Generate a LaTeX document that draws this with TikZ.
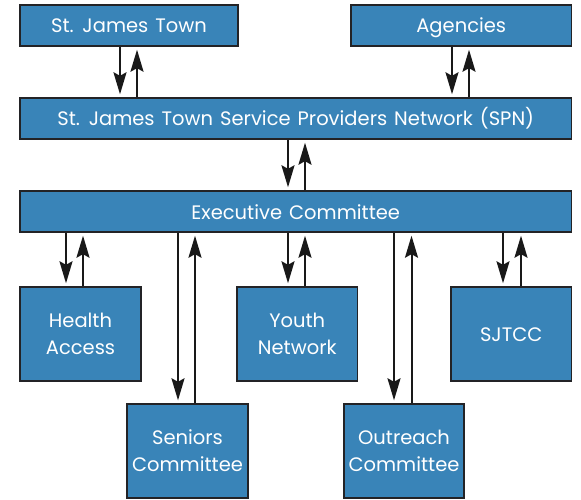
\documentclass[tikz,border=0pt]{standalone}
\usepackage{fontspec}
\setmainfont{Poppins}[WordSpace=1.35]
\usetikzlibrary{arrows.meta}
\definecolor{boxblue}{RGB}{57,132,184}
\definecolor{boxline}{RGB}{35,35,38}
\begin{document}
\begin{tikzpicture}[x=1pt,y=-1pt,
  box/.style={draw=boxline, line width=1.4pt, fill=boxblue, text=white, inner sep=0pt,
    font=\fontsize{19.5}{27}\selectfont, align=center},
  bar/.style={box, text height=19pt, text depth=4pt, minimum height=41pt},
  arr/.style={draw=black!90, line width=2pt, -{Stealth[length=22pt,width=13pt,inset=3.5pt]}, shorten >=3pt}]
\useasboundingbox (0,0) rectangle (581,500);
\node[bar, minimum width=218pt] (sjt) at (129,25.5) {St. James Town};
\node[bar, minimum width=220.5pt] (ag) at (461.25,25.5) {Agencies};
\node[bar, minimum width=551.5pt] (spn) at (295.75,118.5) {St. James Town Service Providers Network (SPN)};
\node[bar, minimum width=551.5pt] (ex) at (295.75,211.5) {Executive Committee};
\node[box, minimum width=121pt, minimum height=94pt] (ha) at (80.5,334) {Health\\Access};
\node[box, minimum width=120.5pt, minimum height=94pt] (yn) at (297.25,334) {Youth\\Network};
\node[box, minimum width=120.5pt, minimum height=94pt, text height=19pt, text depth=4pt] (sj) at (511.25,334) {SJTCC};
\node[box, minimum width=121pt, minimum height=94pt] (sc) at (187.5,451) {Seniors\\Committee};
\node[box, minimum width=120pt, minimum height=94pt] (oc) at (404,451) {Outreach\\Committee};
% top
\draw[arr] (sjt.south -| 120,0) -- (spn.north -| 120,0);
\draw[arr] (spn.north -| 137,0) -- (sjt.south -| 137,0);
\draw[arr] (ag.south -| 452,0) -- (spn.north -| 452,0);
\draw[arr] (spn.north -| 469,0) -- (ag.south -| 469,0);
\draw[arr] (spn.south -| 288,0) -- (ex.north -| 288,0);
\draw[arr] (ex.north -| 305,0) -- (spn.south -| 305,0);
% bottom
\draw[arr] (ex.south -| 66,0) -- (ha.north -| 66,0);
\draw[arr] (ha.north -| 83,0) -- (ex.south -| 83,0);
\draw[arr] (ex.south -| 178,0) -- (sc.north -| 178,0);
\draw[arr] (sc.north -| 195,0) -- (ex.south -| 195,0);
\draw[arr] (ex.south -| 288,0) -- (yn.north -| 288,0);
\draw[arr] (yn.north -| 305,0) -- (ex.south -| 305,0);
\draw[arr] (ex.south -| 394,0) -- (oc.north -| 394,0);
\draw[arr] (oc.north -| 411.5,0) -- (ex.south -| 411.5,0);
\draw[arr] (ex.south -| 503,0) -- (sj.north -| 503,0);
\draw[arr] (sj.north -| 521,0) -- (ex.south -| 521,0);
\end{tikzpicture}
\end{document}
